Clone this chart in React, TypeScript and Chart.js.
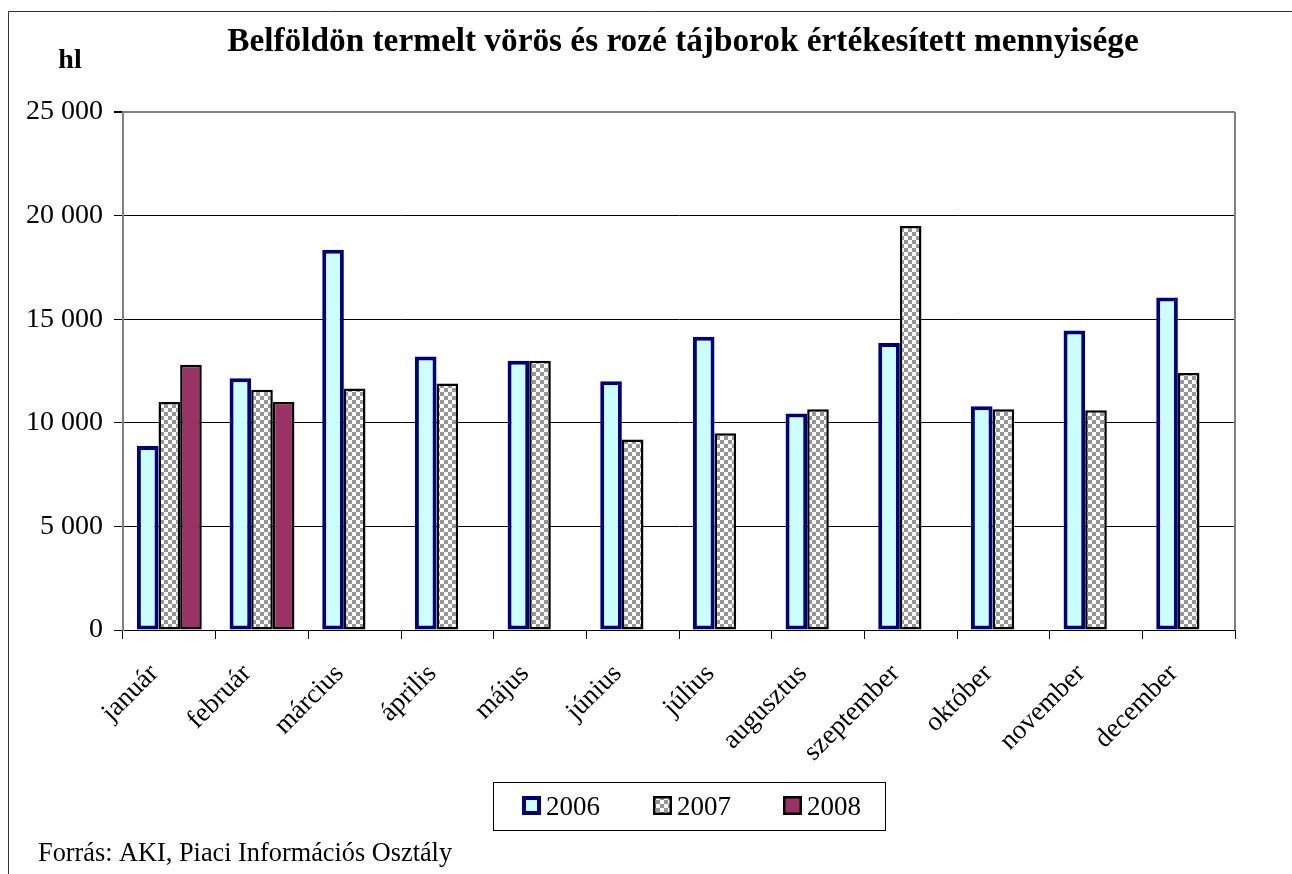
import React, { useEffect, useRef } from "react";
import { Chart, registerables } from "chart.js";

Chart.register(...registerables);

const months = [
  "január", "február", "március", "április", "május", "június",
  "július", "augusztus", "szeptember", "október", "november", "december",
];
const values2006 = [8880, 12150, 18350, 13200, 13000, 12000, 14150, 10450, 13850, 10800, 14450, 16050];
const values2007 = [11000, 11600, 11650, 11900, 13000, 9200, 9500, 10650, 19500, 10650, 10600, 12400];
const values2008 = [12800, 11000, null, null, null, null, null, null, null, null, null, null];
const seriesLabels = ["2006", "2007", "2008"];
const yTicks = [0, 5000, 10000, 15000, 20000, 25000];

const titleText = "Belföldön termelt vörös és rozé tájborok értékesített mennyisége";
const unitText = "hl";
const sourceText = "Forrás: AKI, Piaci Információs Osztály";

const SERIF = '"Liberation Serif", "Times New Roman", serif';

function makeChecker(): CanvasPattern | string {
  const c = document.createElement("canvas");
  c.width = 8;
  c.height = 8;
  const g = c.getContext("2d");
  if (!g) return "#969696";
  g.fillStyle = "#ffffff";
  g.fillRect(0, 0, 8, 8);
  g.fillStyle = "#969696";
  g.fillRect(0, 0, 4, 4);
  g.fillRect(4, 4, 4, 4);
  const p = g.createPattern(c, "repeat");
  return p || "#969696";
}

export default function App() {
  const ref = useRef<HTMLCanvasElement | null>(null);

  useEffect(() => {
    const canvas = ref.current;
    if (!canvas) return;
    const checker = makeChecker();

    const styles = [
      { bg: "#CCFFFF", border: "#000080", bw: 4 },
      { bg: checker, border: "#000000", bw: 2.5 },
      { bg: "#993366", border: "#000000", bw: 2.5 },
    ];

    const decor = {
      id: "decor",
      afterDraw(chart: any) {
        const ctx = chart.ctx as CanvasRenderingContext2D;
        const area = chart.chartArea;
        ctx.save();
        // outer frame
        ctx.strokeStyle = "#333333";
        ctx.lineWidth = 1;
        ctx.beginPath();
        ctx.moveTo(8.5, 874);
        ctx.lineTo(8.5, 11.5);
        ctx.lineTo(1292, 11.5);
        ctx.stroke();
        // plot right border
        ctx.strokeStyle = "#808080";
        ctx.lineWidth = 2;
        ctx.beginPath();
        ctx.moveTo(area.right, area.top);
        ctx.lineTo(area.right, area.bottom);
        ctx.stroke();
        // title
        ctx.fillStyle = "#000";
        ctx.textBaseline = "alphabetic";
        ctx.textAlign = "center";
        ctx.font = `bold 33.3px ${SERIF}`;
        ctx.fillText(titleText, 683, 51);
        ctx.font = `bold 28px ${SERIF}`;
        ctx.fillText(unitText, 70, 68);
        // source
        ctx.textAlign = "left";
        ctx.font = `26.3px ${SERIF}`;
        ctx.fillText(sourceText, 38, 861);
        // legend
        ctx.strokeStyle = "#000";
        ctx.lineWidth = 1;
        ctx.strokeRect(493.5, 782.5, 392, 48);
        const xs = [522, 653, 783];
        ctx.font = `27px ${SERIF}`;
        chart.data.datasets.forEach((ds: any, i: number) => {
          const s = styles[i];
          const x = xs[i];
          const y = 796;
          const w = 19;
          ctx.fillStyle = s.bg as any;
          ctx.fillRect(x, y, w, w);
          ctx.strokeStyle = s.border;
          ctx.lineWidth = i === 0 ? 4 : 2.5;
          const h = ctx.lineWidth / 2;
          ctx.strokeRect(x + h, y + h, w - 2 * h, w - 2 * h);
          ctx.fillStyle = "#000";
          ctx.fillText(ds.label, x + 24, 815);
        });
        ctx.restore();
      },
    };

    const chart = new Chart(canvas, {
      type: "bar",
      data: {
        labels: months,
        datasets: [values2006, values2007, values2008].map((d, i) => ({
          label: seriesLabels[i],
          data: d as any,
          backgroundColor: styles[i].bg as any,
          borderColor: styles[i].border,
          borderWidth: styles[i].bw,
          borderSkipped: false,
          categoryPercentage: 0.7,
          barPercentage: 1.0,
        })),
      },
      options: {
        animation: false,
        responsive: false,
        maintainAspectRatio: false,
        devicePixelRatio: 1,
        layout: { padding: { left: 8, top: 112, right: 57, bottom: 94 } },
        plugins: {
          legend: { display: false },
          title: { display: false },
          tooltip: { enabled: false },
        },
        scales: {
          x: {
            afterFit: (s: any) => { s.height = 150; },
            grid: {
              offset: true,
              drawOnChartArea: false,
              drawTicks: true,
              tickLength: 9,
              color: "#000",
            },
            border: { color: "#000", width: 1 },
            ticks: {
              autoSkip: false,
              maxRotation: 45,
              minRotation: 45,
              padding: 19,
              labelOffset: -15,
              color: "#000",
              font: { family: SERIF, size: 27 },
            },
          },
          y: {
            min: 0,
            max: 25000,
            afterFit: (s: any) => { s.width = 115; },
            afterBuildTicks: (s: any) => { s.ticks = yTicks.map((v) => ({ value: v })); },
            grid: {
              color: (c: any) => (c.tick && c.tick.value === 25000 ? "#808080" : "#000"),
              lineWidth: (c: any) => (c.tick && c.tick.value === 25000 ? 2 : 1),
              tickColor: "#000",
              tickLength: 9,
            },
            border: { color: "#808080", width: 2 },
            ticks: {
              padding: 11,
              color: "#000",
              font: { family: SERIF, size: 28 },
              callback: (v: any) => {
                const n = Number(v);
                return n >= 1000 ? `${Math.floor(n / 1000)} ${String(n % 1000).padStart(3, "0")}` : String(n);
              },
            },
          },
        },
      },
      plugins: [decor],
    });
    return () => chart.destroy();
  }, []);

  return (
    <div style={{ position: "absolute", left: 0, top: 0, width: 1292, height: 874, background: "#fff" }}>
      <canvas ref={ref} width={1292} height={874} style={{ display: "block" }} />
    </div>
  );
}
